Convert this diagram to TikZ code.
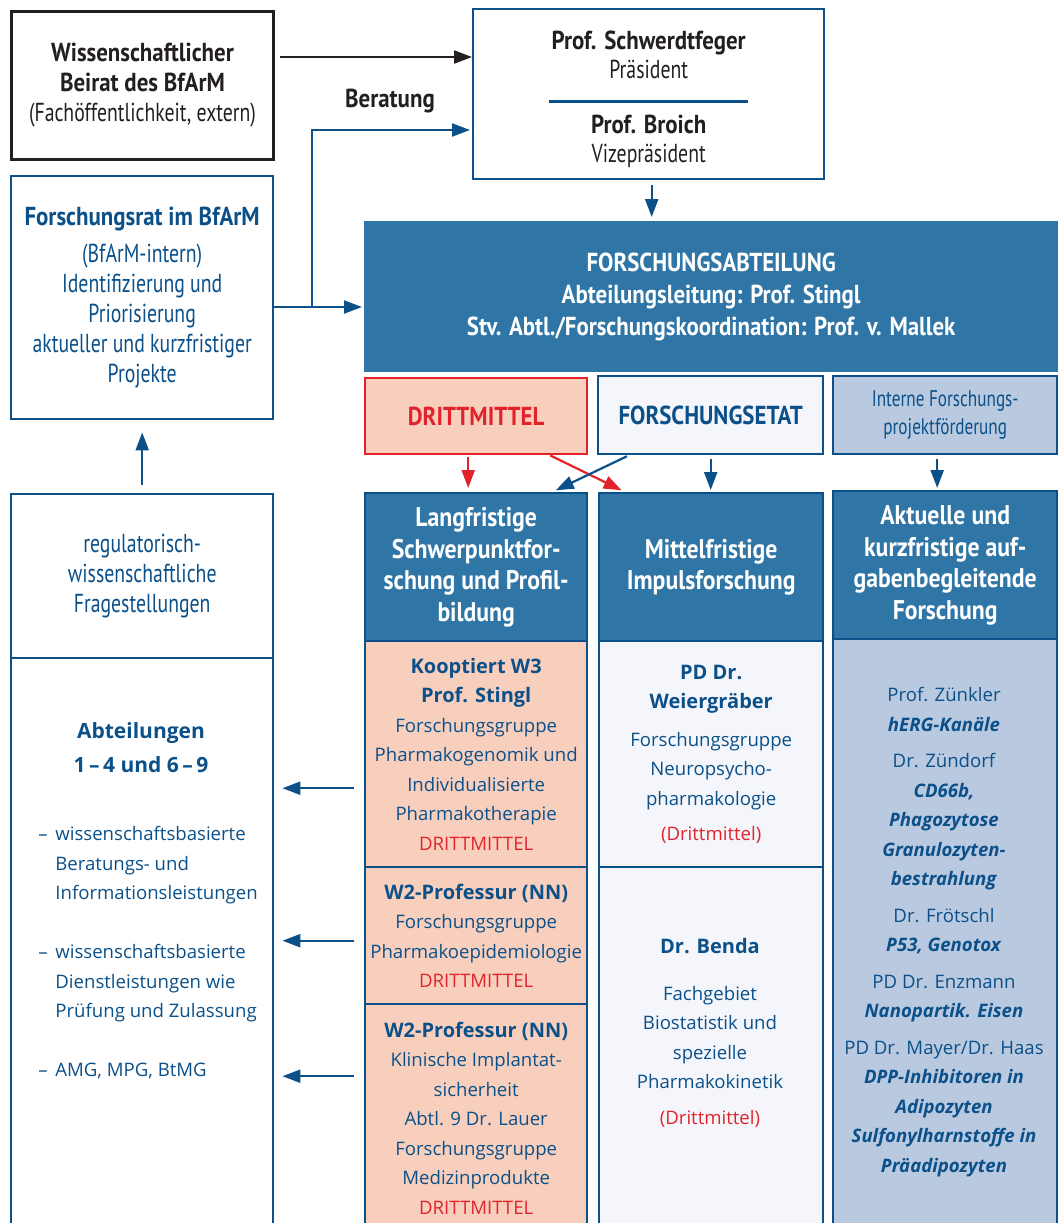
\documentclass[tikz,border=0pt]{standalone}
\usepackage{fontspec}
\setmainfont{Open Sans}
\newfontfamily\cond[FakeStretch=0.76]{PT Sans}
\newfontfamily\condb[FakeStretch=0.88]{PT Sans Bold}
\usetikzlibrary{arrows.meta}
\definecolor{bfblue}{HTML}{0B5089}
\definecolor{bffill}{HTML}{2F75A6}
\definecolor{bfpeach}{HTML}{F8CFBD}
\definecolor{bfred}{HTML}{E3232B}
\definecolor{bflight}{HTML}{F4F6FB}
\definecolor{bflav}{HTML}{B8C9E0}
\definecolor{bfblack}{HTML}{231F20}
\newcommand{\hb}[1]{{\condb #1}}
\newcommand{\gb}[1]{{\bfseries\fontsize{10}{15.5}\selectfont #1}}
\tikzset{
  box/.style={draw=bfblue,line width=1.2pt,anchor=north west,inner sep=0pt,align=center,text=bfblue},
  top/.style={font=\cond\fontsize{13}{15}\selectfont},
  body/.style={font=\fontsize{9.3}{14.75}\selectfont},
  head/.style={box,fill=bffill,text=white,font=\condb\fontsize{13.5}{15.75}\selectfont},
  txt/.style={inner sep=0pt,align=center,text=bfblue},
  arr/.style={-{Triangle[length=9pt,width=6.5pt]},line width=1.1pt,draw=bfblue},
}
\begin{document}
\begin{tikzpicture}[x=0.5pt,y=-0.5pt]
\useasboundingbox (0,0) rectangle (1064,1223);
% left column
\node[box,top,draw=bfblack,line width=1.5pt,text=bfblack,minimum width=131pt,minimum height=74pt] (beirat) at (10,10)
  {\hb{Wissenschaftlicher}\\\hb{Beirat des BfArM}\\(Fachöffentlichkeit, extern)};
\node[box,top,minimum width=131pt,minimum height=121.5pt] (forschrat) at (10,175)
  {\hb{Forschungsrat im BfArM}\\[3.5pt](BfArM-intern)\\Identifizierung und\\Priorisierung\\aktueller und kurzfristiger\\Projekte};
\node[box,top,minimum width=131pt,minimum height=82pt] (fragen) at (10,493)
  {regulatorisch-\\wissenschaftliche\\Fragestellungen};
\node[box,minimum width=131pt,minimum height=300pt] (abt) at (10,657) {};
\node[txt,font=\bfseries\fontsize{10.5}{17}\selectfont] (abttitle) at (141,748) {Abteilungen\\1\,–\,4 und 6\,–\,9};
\node[txt,body,align=left,anchor=north west] (abtlist) at (38,826)
  {\makebox[8.5pt][l]{–}wissenschaftsbasierte\\\hspace*{8.5pt}Beratungs- und\\\hspace*{8.5pt}Informationsleistungen\\[14.75pt]
   \makebox[8.5pt][l]{–}wissenschaftsbasierte\\\hspace*{8.5pt}Dienstleistungen wie\\\hspace*{8.5pt}Prüfung und Zulassung\\[14.75pt]
   \makebox[8.5pt][l]{–}AMG, MPG, BtMG};
% top
\node[box,top,text=bfblack,minimum width=175.5pt,minimum height=85pt,font=\cond\fontsize{13}{14.5}\selectfont] (praes) at (472,8)
  {\rule{0pt}{14.5pt}\hb{Prof. Schwerdtfeger}\\Präsident\\[-2.5pt]{\color{bfblue}\rule{99.5pt}{1.2pt}}\\[1pt]\hb{Prof. Broich}\\Vizepräsident};
\node[txt,top,text=bfblack] (berat) at (390,101) {\hb{Beratung}};
\node[box,fill=bffill,draw=bffill,text=white,font=\condb\fontsize{13}{16}\selectfont,minimum width=346pt,minimum height=74.5pt] (fabt) at (364,221)
  {FORSCHUNGSABTEILUNG\\Abteilungsleitung: Prof. Stingl\\Stv. Abtl./Forschungskoordination: Prof. v. Mallek};
% funding
\node[box,top,fill=bfpeach,draw=bfred,text=bfred,minimum width=111pt,minimum height=38pt] (dritt) at (364,377) {\hb{DRITTMITTEL}};
\node[box,top,fill=bflight,minimum width=112.5pt,minimum height=39pt] (etat) at (597,375) {\hb{FORSCHUNGSETAT}};
\node[box,fill=bflav,font=\cond\fontsize{11.3}{14}\selectfont,minimum width=112pt,minimum height=39pt] (intern) at (832,375) {Interne Forschungs-\\projektförderung};
% research lines
\node[head,minimum width=111pt,minimum height=74pt] (lang) at (364,492) {Langfristige\\Schwerpunktfor-\\schung und Profil-\\bildung};
\node[head,minimum width=112pt,minimum height=74pt] (mittel) at (598,492) {Mittelfristige\\Impulsforschung};
\node[head,minimum width=112pt,minimum height=74pt] (aktuell) at (832,490) {Aktuelle und\\kurzfristige auf-\\gabenbegleitende\\Forschung};
% groups
\node[box,body,fill=bfpeach,minimum width=111pt,minimum height=113pt] (koop) at (364,640)
  {\gb{Kooptiert W3}\\\gb{Prof. Stingl}\\Forschungsgruppe\\Pharmakogenomik und\\Individualisierte\\Pharmakotherapie\\\textcolor{bfred}{DRITTMITTEL}};
\node[box,body,fill=bfpeach,minimum width=111pt,minimum height=68.5pt] (wzweia) at (364,866)
  {\gb{W2-Professur (NN)}\\Forschungsgruppe\\Pharmakoepidemiologie\\\textcolor{bfred}{DRITTMITTEL}};
\node[box,body,fill=bfpeach,minimum width=111pt,minimum height=114pt] (wzweib) at (364,1003)
  {\gb{W2-Professur (NN)}\\Klinische Implantat-\\sicherheit\\Abtl. 9 Dr. Lauer\\Forschungsgruppe\\Medizinprodukte\\\textcolor{bfred}{DRITTMITTEL}};
\node[box,body,fill=bflight,minimum width=112pt,minimum height=113pt] (pdw) at (598,640)
  {\gb{PD Dr.}\\\gb{Weiergräber}\\[4pt]Forschungsgruppe\\Neuropsycho-\\pharmakologie\\[3pt]\textcolor{bfred}{(Drittmittel)}};
\node[box,fill=bflight,minimum width=112pt,minimum height=200pt] (benda) at (598,866) {};
\node[txt,body] (bendatxt) at (710,1033)
  {\gb{Dr. Benda}\\[8.5pt]Fachgebiet\\Biostatistik und\\spezielle\\Pharmakokinetik\\[3pt]\textcolor{bfred}{(Drittmittel)}};
\node[box,fill=bflav,minimum width=112pt,minimum height=300pt] (projekte) at (832,638) {};
\node[txt,body] (projtxt) at (944,932)
  {Prof. Zünkler\\\textbf{\textit{hERG-Kanäle}}\\[3.5pt]
   Dr. Zündorf\\\textbf{\textit{CD66b,}}\\\textbf{\textit{Phagozytose}}\\\textbf{\textit{Granulozyten-}}\\\textbf{\textit{bestrahlung}}\\[3.5pt]
   Dr. Frötschl\\\textbf{\textit{P53, Genotox}}\\[3.5pt]
   PD Dr. Enzmann\\\textbf{\textit{Nanopartik. Eisen}}\\[3.5pt]
   PD Dr. Mayer/Dr. Haas\\\textbf{\textit{DPP-Inhibitoren in}}\\\textbf{\textit{Adipozyten}}\\\textbf{\textit{Sulfonylharnstoffe in}}\\\textbf{\textit{Präadipozyten}}};
% connectors
\coordinate (b1) at (280,57);
\draw[arr,draw=bfblack] (b1) -- (b1 -| praes.west);
\coordinate (split) at (312,307);
\coordinate (b2) at (312,130);
\draw[arr,shorten >=1pt] (split -| forschrat.east) -- (split -| fabt.west);
\draw[arr,shorten >=1pt] (split) -- (b2) -- (b2 -| praes.west);
\draw[arr,shorten <=2.5pt,shorten >=2pt] ([xshift=1.5pt]praes.south) -- ([xshift=1.5pt]praes.south |- fabt.north);
\draw[arr,shorten <=4pt,shorten >=6pt] (fragen.north) -- (forschrat.south);
\draw[arr,draw=bfred,shorten <=1pt,shorten >=2pt] ([xshift=-4pt]dritt.south) -- ([xshift=-4pt]lang.north);
\draw[arr,draw=bfred,shorten >=2pt] ([xshift=37pt]dritt.south) -- ([xshift=-43pt]mittel.north);
\draw[arr,shorten <=1pt,shorten >=2pt] ([xshift=-41pt]etat.south) -- ([xshift=38pt]lang.north);
\draw[arr,shorten <=2pt,shorten >=1pt] (etat.south) -- (etat.south |- mittel.north);
\draw[arr,shorten <=2pt,shorten >=1pt] ([xshift=-4pt]intern.south) -- ([xshift=-4pt]aktuell.north);
\path (koop.west) ++(0,34) coordinate (k1);
\path (wzweia.west) ++(0,5) coordinate (k2);
\path (wzweib.west) ++(0,-42) coordinate (k3);
\foreach \k in {k1,k2,k3}
  \draw[arr,shorten <=5pt,shorten >=4pt] (\k) -- (\k -| abt.east);
\end{tikzpicture}
\end{document}
